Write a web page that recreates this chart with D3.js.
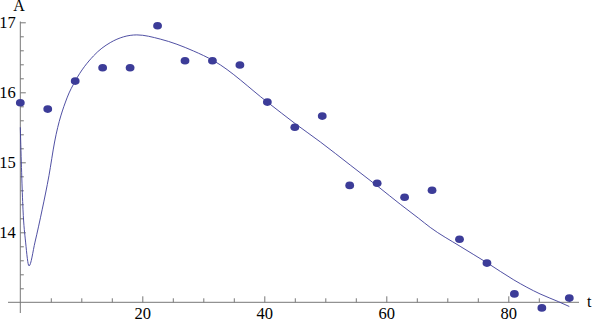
<!DOCTYPE html>
<html>
<head>
<meta charset="utf-8">
<script src="https://cdn.jsdelivr.net/npm/d3@7"></script>
<style>
  body { margin: 0; background: #fff; }
  svg { display: block; }
  text { font-family: "Liberation Serif", "DejaVu Serif", serif; }
</style>
</head>
<body>
<script>
// measured points (t, A)
const tValues = [0, 4.5, 9, 13.5, 18, 22.5, 27, 31.5, 36, 40.5, 45, 49.5, 54, 58.5, 63, 67.5, 72, 76.5, 81, 85.5, 90];
const aValues = [15.85, 15.76, 16.16, 16.35, 16.35, 16.95, 16.45, 16.45, 16.39, 15.86, 15.50, 15.66, 14.67, 14.70, 14.50, 14.60, 13.90, 13.56, 13.12, 12.92, 13.06];

// fitted curve
const fitT = [0, 0.44, 0.87, 1.43, 2.41, 3.6, 4.7, 5.62, 7.66, 9.0, 12.0, 14.75, 19.1, 22.95, 28.4, 31.7, 40.5, 45.1, 49.2, 54.1, 58.7, 62.3, 65.3, 67.2, 72.1, 76.6, 80.9, 85.2, 88.2, 90];
const fitA = [15.50, 14.33, 13.86, 13.52, 13.86, 14.33, 14.81, 15.29, 15.92, 16.16, 16.52, 16.71, 16.82, 16.76, 16.59, 16.45, 15.86, 15.55, 15.29, 14.96, 14.65, 14.40, 14.20, 14.07, 13.80, 13.56, 13.32, 13.12, 13.01, 12.94];

const xMajor = [20, 40, 60, 80];
const xMinor = [5, 10, 15, 25, 30, 35, 45, 50, 55, 65, 70, 75, 85, 90];
const yMajor = [14, 15, 16, 17];
const yMinor = [13.2, 13.4, 13.6, 13.8, 14.2, 14.4, 14.6, 14.8, 15.2, 15.4, 15.6, 15.8, 16.2, 16.4, 16.6, 16.8];

const width = 595, height = 320;
const blue = '#3c3c98';
const axisGray = '#777';

const svg = d3.select('body').append('svg')
  .attr('width', width)
  .attr('height', height);

const x = d3.scaleLinear().domain([0, 90]).range([20.3, 569.3]);
const y = d3.scaleLinear().domain([13, 17]).range([302.3, 22.3]);

const x0 = x(0), y0 = y(13);

// axis lines (run a little past the origin like the original)
svg.append('line')
  .attr('x1', 8).attr('x2', 579)
  .attr('y1', y0).attr('y2', y0)
  .attr('stroke', axisGray).attr('stroke-width', 1);
svg.append('line')
  .attr('x1', x0).attr('x2', x0)
  .attr('y1', 21.5).attr('y2', 313)
  .attr('stroke', axisGray).attr('stroke-width', 1);

function styleAxis(g) {
  g.select('.domain').remove();
  g.selectAll('line').attr('stroke', axisGray);
  g.selectAll('text')
    .attr('fill', '#000')
    .style('font-family', '"Liberation Serif", serif')
    .style('font-size', '16.5px');
}

// x ticks point up into the plot, labels below
svg.append('g')
  .attr('transform', `translate(0,${y0})`)
  .call(d3.axisBottom(x).tickValues(xMajor).tickSizeInner(-6).tickSizeOuter(0).tickPadding(4.5).tickFormat(d3.format('d')))
  .call(styleAxis);
svg.append('g')
  .attr('transform', `translate(0,${y0})`)
  .call(d3.axisBottom(x).tickValues(xMinor).tickSizeInner(-4).tickSizeOuter(0).tickFormat(''))
  .call(styleAxis);

// y ticks point right, labels left
svg.append('g')
  .attr('transform', `translate(${x0},0)`)
  .call(d3.axisLeft(y).tickValues(yMajor).tickSizeInner(-5.5).tickSizeOuter(0).tickPadding(4.5).tickFormat(d3.format('d')))
  .call(styleAxis);
svg.append('g')
  .attr('transform', `translate(${x0},0)`)
  .call(d3.axisLeft(y).tickValues(yMinor).tickSizeInner(-3.5).tickSizeOuter(0).tickFormat(''))
  .call(styleAxis);

// axis names
svg.append('text')
  .attr('x', 19).attr('y', 10.5)
  .attr('text-anchor', 'middle')
  .style('font-size', '16px')
  .text('A');
svg.append('text')
  .attr('x', 587).attr('y', 306.5)
  .style('font-size', '16px')
  .text('t');

// fitted curve
const fit = fitT.map((t, i) => ({ t: t, a: fitA[i] }));
const line = d3.line()
  .x(d => x(d.t))
  .y(d => y(d.a))
  .curve(d3.curveMonotoneX);

svg.append('path')
  .datum(fit)
  .attr('d', line)
  .attr('fill', 'none')
  .attr('stroke', blue)
  .attr('stroke-width', 0.9);

// data points
const pts = tValues.map((t, i) => ({ t: t, a: aValues[i] }));
svg.selectAll('.pt')
  .data(pts)
  .enter()
  .append('ellipse')
  .attr('class', 'pt')
  .attr('cx', d => x(d.t))
  .attr('cy', d => y(d.a))
  .attr('rx', 4.4)
  .attr('ry', 3.8)
  .attr('fill', blue);
</script>
</body>
</html>
